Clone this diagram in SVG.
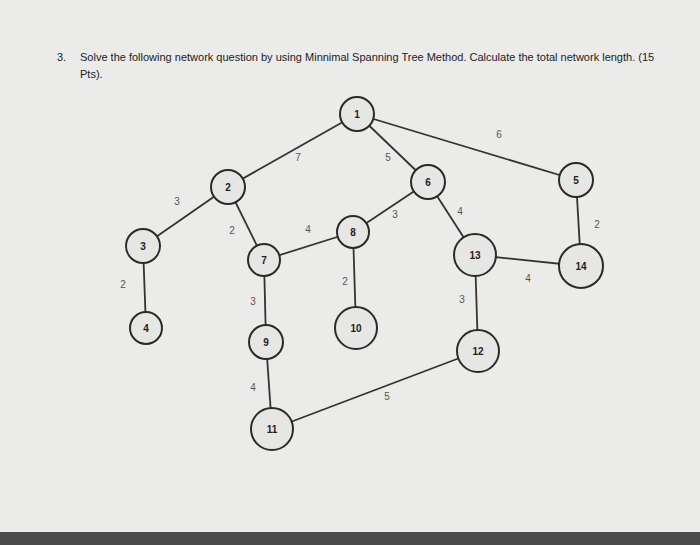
<svg xmlns="http://www.w3.org/2000/svg" width="700" height="545" viewBox="0 0 700 545">
<style>
.n circle{fill:#e6e6e4;stroke:#2a2a2a;stroke-width:2}
.n text{font-family:"Liberation Sans",sans-serif;font-size:10px;font-weight:bold;text-anchor:middle;fill:#222}
.e line{stroke:#333;stroke-width:1.8}
.w{font-family:"Liberation Sans",sans-serif;font-size:10px;fill:#555;text-anchor:middle}
.t{font-family:"Liberation Sans",sans-serif;font-size:11px;fill:#222}
</style>
<rect width="700" height="545" fill="#ebebea"/>
<rect y="532" width="700" height="13" fill="#4a4a4a"/>
<text class="t" x="57" y="61">3.</text>
<text class="t" x="80" y="61">Solve the following network question by using Minnimal Spanning Tree Method. Calculate the total network length. (15</text>
<text class="t" x="80" y="78">Pts).</text>
<g id="edges" class="e">
<line x1="357" y1="114" x2="576" y2="180"/>
<line x1="357" y1="114" x2="228" y2="187"/>
<line x1="357" y1="114" x2="428" y2="182"/>
<line x1="228" y1="187" x2="143" y2="246"/>
<line x1="228" y1="187" x2="264" y2="260"/>
<line x1="143" y1="246" x2="146" y2="328"/>
<line x1="264" y1="260" x2="353" y2="232"/>
<line x1="428" y1="182" x2="353" y2="232"/>
<line x1="428" y1="182" x2="475" y2="255"/>
<line x1="576" y1="180" x2="581" y2="266"/>
<line x1="475" y1="255" x2="581" y2="266"/>
<line x1="264" y1="260" x2="266" y2="342"/>
<line x1="353" y1="232" x2="356" y2="328"/>
<line x1="475" y1="255" x2="478" y2="351"/>
<line x1="266" y1="342" x2="272" y2="429"/>
<line x1="272" y1="429" x2="478" y2="351"/>
</g>
<g id="weights">
<text class="w" x="499" y="138">6</text>
<text class="w" x="298" y="161">7</text>
<text class="w" x="388" y="161">5</text>
<text class="w" x="177" y="205">3</text>
<text class="w" x="232" y="234">2</text>
<text class="w" x="308" y="233">4</text>
<text class="w" x="395" y="218">3</text>
<text class="w" x="460" y="215">4</text>
<text class="w" x="597" y="228">2</text>
<text class="w" x="123" y="288">2</text>
<text class="w" x="253" y="305">3</text>
<text class="w" x="345" y="285">2</text>
<text class="w" x="462" y="303">3</text>
<text class="w" x="528" y="282">4</text>
<text class="w" x="253" y="391">4</text>
<text class="w" x="387" y="400">5</text>
</g>
<g id="n1" class="n"><circle cx="357" cy="114" r="17"/><text x="357" y="118">1</text></g>
<g id="n2" class="n"><circle cx="228" cy="187" r="17"/><text x="228" y="191">2</text></g>
<g id="n3" class="n"><circle cx="143" cy="246" r="17"/><text x="143" y="250">3</text></g>
<g id="n4" class="n"><circle cx="146" cy="328" r="16"/><text x="146" y="332">4</text></g>
<g id="n5" class="n"><circle cx="576" cy="180" r="17"/><text x="576" y="184">5</text></g>
<g id="n6" class="n"><circle cx="428" cy="182" r="17"/><text x="428" y="186">6</text></g>
<g id="n7" class="n"><circle cx="264" cy="260" r="16"/><text x="264" y="264">7</text></g>
<g id="n8" class="n"><circle cx="353" cy="232" r="16"/><text x="353" y="236">8</text></g>
<g id="n9" class="n"><circle cx="266" cy="342" r="17"/><text x="266" y="346">9</text></g>
<g id="n10" class="n"><circle cx="356" cy="328" r="21"/><text x="356" y="332">10</text></g>
<g id="n11" class="n"><circle cx="272" cy="429" r="21"/><text x="272" y="433">11</text></g>
<g id="n12" class="n"><circle cx="478" cy="351" r="21"/><text x="478" y="355">12</text></g>
<g id="n13" class="n"><circle cx="475" cy="255" r="21"/><text x="475" y="259">13</text></g>
<g id="n14" class="n"><circle cx="581" cy="266" r="22"/><text x="581" y="270">14</text></g>
</svg>
